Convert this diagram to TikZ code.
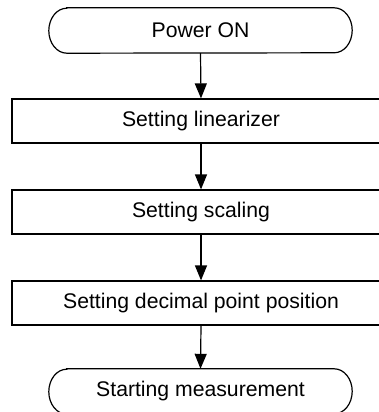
\documentclass[tikz,border=0pt]{standalone}
\usepackage{fontspec}
\setmainfont{Liberation Sans}
\usetikzlibrary{arrows.meta}
\begin{document}
\begin{tikzpicture}[x=1pt,y=-1pt,
  lw/.style={line width=1.2pt},
  procbox/.style={lw,draw,minimum width=378pt,minimum height=44pt,inner sep=0pt,font=\fontsize{21.2pt}{24pt}\selectfont},
  termnode/.style={minimum width=303pt,minimum height=45pt,inner sep=0pt,font=\fontsize{21.2pt}{24pt}\selectfont},
  flow/.style={lw,-{Triangle[length=15pt,width=12pt]}}]
\useasboundingbox (0,0) rectangle (379,412);
\node[termnode] (t1) at (200.5,30.5) {Power ON};
\node[procbox] (b1) at (201,121) {Setting linearizer};
\node[procbox] (b2) at (201,212) {Setting scaling};
\node[procbox] (b3) at (201,303) {Setting decimal point position};
\node[termnode] (t2) at (200.5,391.5) {Starting measurement};
\foreach \t in {t1,t2}{
  \draw[lw] ([xshift=18pt]\t.north west) -- ([xshift=-18pt]\t.north east)
    arc[start angle=90,end angle=-90,x radius=18pt,y radius=22.5pt]
    -- ([xshift=18pt]\t.south west)
    arc[start angle=270,end angle=90,x radius=18pt,y radius=22.5pt] -- cycle;
}
\draw[flow] (t1.south) -- (b1.north);
\draw[flow] (b1.south) -- (b2.north);
\draw[flow] (b2.south) -- (b3.north);
\draw[flow] (b3.south) -- (t2.north);
\end{tikzpicture}
\end{document}
